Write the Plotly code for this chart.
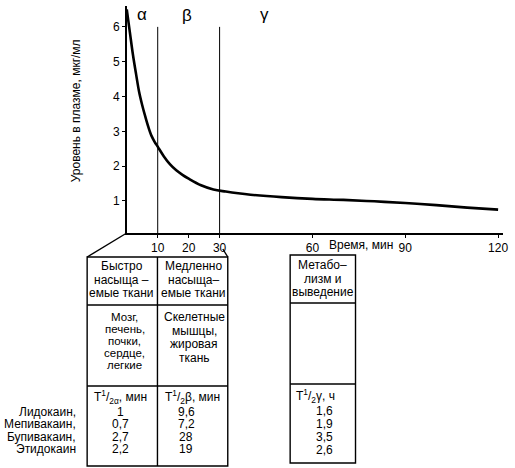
import plotly.graph_objects as go

# plasma level curve
time_min = [0, 1, 2, 3, 4, 5, 6, 7, 8, 9, 10, 12, 14, 16, 18, 20, 24, 28, 32, 36,
            40, 50, 60, 70, 80, 90, 100, 110, 120]
level = [6.5, 5.85, 5.2, 4.65, 4.13, 3.75, 3.42, 3.12, 2.87, 2.7, 2.56, 2.28, 2.05,
         1.88, 1.75, 1.64, 1.45, 1.33, 1.27, 1.22, 1.18, 1.11, 1.06, 1.03, 0.99,
         0.94, 0.88, 0.81, 0.75]
phase_bounds = [10, 30]
x_ticks = [10, 20, 30, 60, 90, 120]
y_ticks = [1, 2, 3, 4, 5, 6]

drugs = ["Лидокаин,", "Мепивакаин,", "Бупивакаин,", "Этидокаин"]
t_half_alpha = ["1", "0,7", "2,7", "2,2"]
t_half_beta = ["9,6", "7,2", "28", "19"]
t_half_gamma = ["1,6", "1,9", "3,5", "2,6"]

head_alpha = ["Быстро", "насыща –", "емые ткани"]
head_beta = ["Медленно", "насыща–", "емые ткани"]
head_gamma = ["Метабо–", "лизм и", "выведение"]
tissue_alpha = ["Мозг,", "печень,", "почки,", "сердце,", "легкие"]
tissue_beta = ["Скелетные", "мышцы,", "жировая", "ткань"]

# layout is laid out in the reference's pixels, converted to paper fractions
W, H = 515, 468
FONT = "Liberation Sans, Arial, sans-serif"


def px(x):
    return x / W


def py(y):
    return 1 - y / H


fig = go.Figure()
fig.add_trace(go.Scatter(x=time_min, y=level, mode="lines", line=dict(color="black", width=2.6, shape="spline"),
                         hoverinfo="skip", showlegend=False, cliponaxis=False))

shapes = []
for b in phase_bounds:
    shapes.append(dict(type="line", xref="x", yref="y", x0=b, x1=b, y0=0.08, y1=6.0,
                       line=dict(color="black", width=1)))

line_style = dict(color="black", width=1.4)


def pline(x0, y0, x1, y1):
    shapes.append(dict(type="line", xref="paper", yref="paper", x0=px(x0), y0=py(y0), x1=px(x1), y1=py(y1),
                       line=line_style))


# connectors from the time axis to the tables
pline(128, 233, 88, 257)
pline(225, 249, 230, 257)

# table for alpha / beta phases
shapes.append(dict(type="rect", xref="paper", yref="paper", x0=px(88), x1=px(230), y0=py(257), y1=py(466),
                   line=line_style))
pline(159, 257, 159, 466)
pline(88, 305, 230, 305)
pline(88, 386, 230, 386)

# table for gamma phase
shapes.append(dict(type="rect", xref="paper", yref="paper", x0=px(293), x1=px(359), y0=py(255), y1=py(463),
                   line=line_style))
pline(293, 303, 359, 303)
pline(293, 384, 359, 384)

annotations = []


def text(s, x, y, size=12, xanchor="center", angle=0):
    annotations.append(dict(text=s, x=px(x), y=py(y), xref="paper", yref="paper", showarrow=False,
                            xanchor=xanchor, yanchor="middle", textangle=angle,
                            font=dict(family=FONT, size=size, color="black")))


def column(lines, x, y0, step, xanchor="center", size=12):
    for i, s in enumerate(lines):
        text(s, x, y0 + i * step, xanchor=xanchor, size=size)


text("Уровень в плазме, мкг/мл", 77, 111, angle=-90)
text("Время, мин", 365, 245)
text("α", 143, 15, size=17)
text("β", 189, 16, size=17)
text("γ", 267, 15, size=17)

column(head_alpha, 123, 266, 13.5)
column(head_beta, 195, 266, 13.5)
column(head_gamma, 326, 265, 13.5)
column(tissue_alpha, 126, 317, 12, size=11.5)
column(tissue_beta, 196, 317, 13.5)

text("T<sup>1</sup>/<sub>2α</sub>, мин", 122, 397)
text("T<sup>1</sup>/<sub>2</sub>β, мин", 194, 397)
text("T<sup>1</sup>/<sub>2</sub>γ, ч", 319, 396)

column(drugs, 79, 412, 12.3, xanchor="right")
column(t_half_alpha, 122, 412, 12.3)
column(t_half_beta, 188, 412, 12.3)
column(t_half_gamma, 328, 411, 13)

fig.update_layout(
    autosize=True,
    margin=dict(l=0, r=0, t=0, b=0),
    paper_bgcolor="white", plot_bgcolor="white",
    font=dict(family=FONT, size=12, color="black"),
    shapes=shapes, annotations=annotations,
    xaxis=dict(domain=[px(128), px(508)], range=[0, 121.6], tickvals=x_ticks, showgrid=False, zeroline=False,
               showline=True, linecolor="black", linewidth=1.5, ticks="outside", ticklen=3, tickcolor="black",
               tickfont=dict(size=12)),
    yaxis=dict(domain=[py(233), py(6)], range=[0.08, 6.6], tickvals=y_ticks, showgrid=False, zeroline=False,
               showline=True, linecolor="black", linewidth=1.5, ticks="outside", ticklen=3, tickcolor="black",
               tickfont=dict(size=12)),
)

# figure fills the whole window; drop the default body margin
fig.write_html("out.html", config={"displayModeBar": False}, default_width="100vw", default_height="100vh",
               post_script="document.body.style.margin = '0';")
